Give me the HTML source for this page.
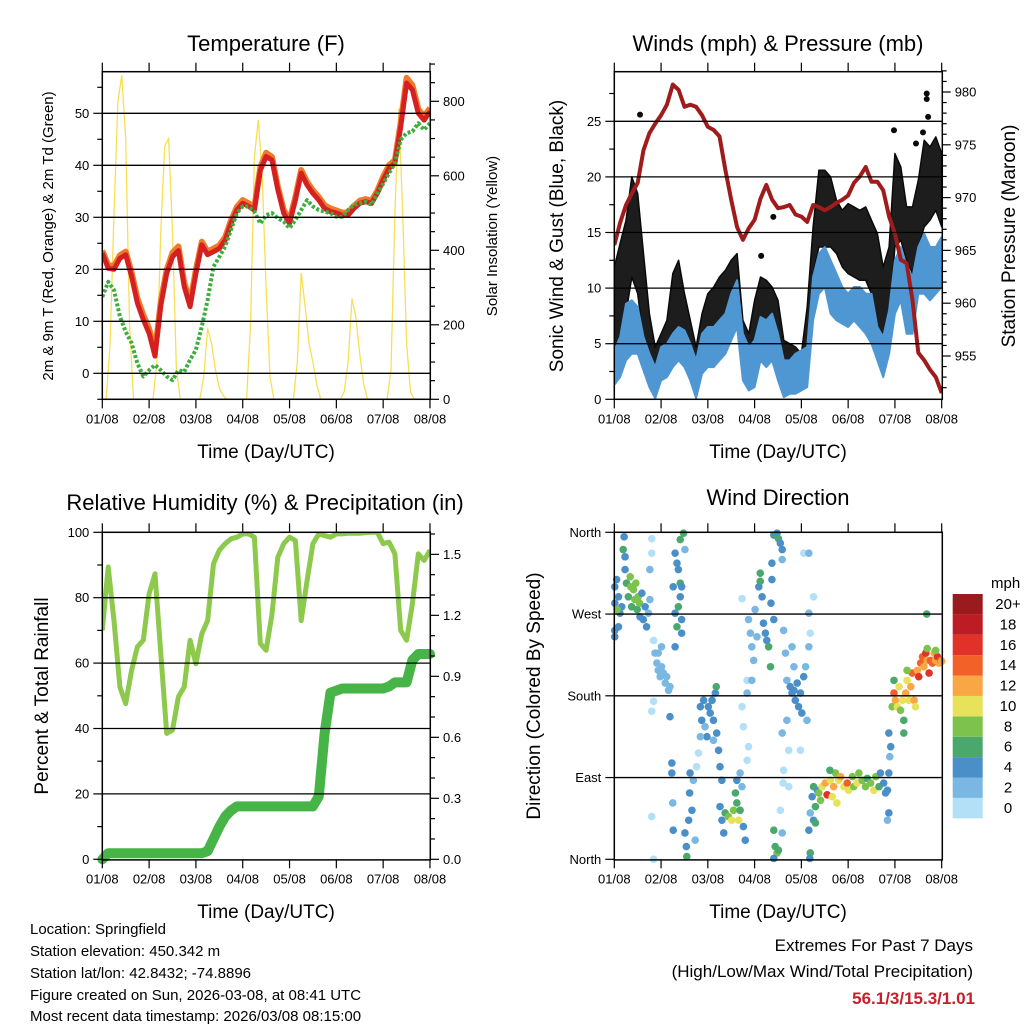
<!DOCTYPE html>
<html><head><meta charset="utf-8"><title>Weather station 7-day summary</title>
<style>
html,body{margin:0;padding:0;background:#fff;}
svg{display:block;font-family:"Liberation Sans",Arial,sans-serif;}
</style></head>
<body>
<svg id="chart" width="1024" height="1024" viewBox="0 0 1024 1024">
<rect x="0" y="0" width="1024" height="1024" fill="#fff"/>
<g id="marks"></g>
<g id="axes"></g>
<text x="266" y="51" font-size="22" text-anchor="middle">Temperature (F)</text>
<text x="778" y="51" font-size="22" text-anchor="middle">Winds (mph) &amp; Pressure (mb)</text>
<text x="265" y="510" font-size="22" text-anchor="middle">Relative Humidity (%) &amp; Precipitation (in)</text>
<text x="778" y="505" font-size="22" text-anchor="middle">Wind Direction</text>
<text x="266" y="458" font-size="19" text-anchor="middle">Time (Day/UTC)</text>
<text x="778" y="458" font-size="19" text-anchor="middle">Time (Day/UTC)</text>
<text x="266" y="918" font-size="19" text-anchor="middle">Time (Day/UTC)</text>
<text x="778" y="918" font-size="19" text-anchor="middle">Time (Day/UTC)</text>
<text transform="translate(53,236) rotate(-90)" font-size="15" text-anchor="middle">2m &amp; 9m T (Red, Orange) &amp; 2m Td (Green)</text>
<text transform="translate(497,236) rotate(-90)" font-size="15" text-anchor="middle">Solar Insolation (Yellow)</text>
<text transform="translate(563,236) rotate(-90)" font-size="19" text-anchor="middle">Sonic Wind &amp; Gust (Blue, Black)</text>
<text transform="translate(1015,236) rotate(-90)" font-size="19" text-anchor="middle">Station Pressure (Maroon)</text>
<text transform="translate(48,696) rotate(-90)" font-size="19" text-anchor="middle">Percent &amp; Total Rainfall</text>
<text transform="translate(540,696) rotate(-90)" font-size="19" text-anchor="middle">Direction (Colored By Speed)</text>
<text x="991" y="588" font-size="15">mph</text>
<g font-size="15">
<text x="30" y="934">Location: Springfield</text>
<text x="30" y="956">Station elevation: 450.342 m</text>
<text x="30" y="978">Station lat/lon: 42.8432; -74.8896</text>
<text x="30" y="1000">Figure created on Sun, 2026-03-08, at 08:41 UTC</text>
<text x="30" y="1021">Most recent data timestamp: 2026/03/08 08:15:00</text>
</g>
<text x="973" y="951" font-size="17" text-anchor="end">Extremes For Past 7 Days</text>
<text x="973" y="977" font-size="17" text-anchor="end">(High/Low/Max Wind/Total Precipitation)</text>
<text x="975" y="1004" font-size="17" font-weight="bold" fill="#c8202a" text-anchor="end">56.1/3/15.3/1.01</text>
</svg>
<script>
// ---------- data (3-hourly unless noted) ----------
const xTickLabels = ['01/08','02/08','03/08','04/08','05/08','06/08','07/08','08/08'];
const tempRed = [23.1,20.2,20,22.1,22.8,18.6,13.5,10.3,7.7,3.3,13,19.2,22.4,23.6,16.7,12.8,19.2,24.7,22.8,23.4,24,25.6,28.8,31.4,32.7,32.1,31.4,39,41.7,41,35.3,30.8,28.8,33.3,38.5,36.2,34.6,33.3,31.7,31.1,30.8,30.4,30.4,31.7,32.7,33,32.7,34.6,37.2,39.4,40.4,47.4,55.8,54.5,50,48.7,50.3];
const tempOrange = [23.6,20.8,20.6,22.7,23.4,19.4,14.4,11.2,8.6,4.2,13.8,19.9,23.2,24.4,17.5,13.6,19.9,25.3,23.4,24,24.6,26.2,29.4,32,33.3,32.7,32,39.6,42.4,41.6,35.9,31.4,29.4,33.9,39.1,36.8,35.2,33.9,32.3,31.7,31.3,30.9,30.9,32.2,33.2,33.5,33.2,35.1,37.8,40,41,48.2,56.8,55.4,50.8,49.4,51];
const dewGreen = [14.7,17.6,16,10.9,8,5.8,1.9,-0.6,0.6,1.6,0.6,-0.6,-1.3,0.6,0.3,2.6,4.5,9,14.1,20.5,22.4,24.4,27.6,30.8,32.1,32.1,31.1,28.8,30.4,30.8,29.8,29.2,27.9,29.5,31.4,33.3,32.1,31.4,31.1,30.8,30.1,30.1,31.4,32.4,32.7,33,32.4,34.6,36.5,38.5,40.4,44.9,46.2,46.5,48.1,46.8,48.1];
// solar insolation, 2-hourly
const solar2h = [0,0,150,500,800,870,700,200,0,0,0,0,
 0,0,100,450,680,700,450,80,0,0,0,0,
 0,0,60,190,150,80,30,10,0,0,0,0,
 0,0,200,650,750,600,300,60,0,0,0,0,
 0,0,100,340,250,150,100,40,0,0,0,0,
 0,0,20,100,270,220,120,40,0,0,0,0,
 0,0,80,500,780,500,150,20,0,0,0,0, 0];
const pressure = [965.5,967.6,969.3,970.4,971.4,974.5,976.1,977,977.8,978.8,980.7,980.2,978.6,978.8,978.6,977.8,976.7,976.4,975.8,972.6,969.8,967.2,966,967.1,967.9,969.9,971.2,969.8,969,969.1,969.3,968.4,968.2,967.7,969.3,969.1,968.8,969.1,969.5,969.8,970.2,971.4,972,972.9,971.5,971.5,970.7,968.2,966.6,964.1,963.8,960.3,955.3,954.6,953.7,953,951.5];
const windHi = [4.4,5.6,8.6,8.9,8.3,5.6,4.1,2.9,4.7,5.0,5.9,6.5,6.2,5.0,3.5,5.9,6.5,6.5,7.1,7.7,9.5,10.7,5.9,4.7,5.3,7.4,7.1,7.7,5.9,3.5,3.5,4.1,4.4,4.7,11.0,13.1,13.7,12.5,11.3,10.1,9.5,10.1,10.1,9.5,9.5,6.5,5.6,8.0,12.5,13.7,11.9,11.0,13.7,14.9,13.7,13.7,14.6];
const windLo = [1.3,2.0,3.5,4.1,4.1,2.6,1.1,0.1,1.7,2.0,2.9,3.5,2.9,1.7,0.1,2.3,2.9,2.9,3.5,4.1,5.3,6.5,1.7,0.8,1.1,3.5,2.9,3.5,1.7,0.2,0.5,0.5,0.8,1.1,7.1,9.5,10.1,7.7,7.1,6.8,6.5,7.1,6.5,5.9,5.0,3.5,2.0,4.1,7.7,8.9,5.9,5.9,9.5,9.5,8.9,9.5,10.1];
const gustHi = [11.9,14.0,16.1,20.0,18.5,13.1,7.7,4.7,5.9,7.1,11.3,12.5,9.5,7.1,4.7,7.7,9.5,10.1,11.0,11.6,12.5,13.1,7.1,5.9,8.9,11.0,10.7,10.1,8.9,5.3,5.0,4.7,4.1,8.3,15.5,20.6,20.6,20.0,17.9,17.0,17.6,17.3,17.0,17.3,16.1,14.9,11.9,13.7,22.1,20.9,17.3,17.3,19.7,23.3,22.7,23.6,22.1];
const gustLo = [3.5,5.9,7.7,11.0,9.5,5.3,3.5,1.1,2.3,2.9,4.7,5.9,4.7,3.5,1.4,4.1,5.0,5.3,5.9,6.5,7.7,7.1,2.9,2.0,3.5,5.9,5.9,5.3,4.1,2.0,2.0,1.7,1.7,4.1,11.3,13.7,13.7,13.7,13.1,11.9,11.3,11.0,10.7,10.7,9.5,6.5,5.3,7.1,13.7,14.3,12.5,11.3,13.7,15.5,16.1,17.0,15.5];
const gustOutDay = [0.55,5.98,6.68,6.68,6.71,3.4,3.14,6.6,6.45];
const gustOutVal = [25.6,24.2,27.5,27.0,25.4,16.4,12.9,24.0,23.0];
const rhVals = [70,89.4,73,52.7,47.6,57.8,65,67,81.2,87.3,62.9,38.5,39.5,49.7,52.7,67,59.8,69,73,90.4,94.5,96.5,98,98.5,99.5,99.5,98.5,66,63.9,75,92.4,96.5,98.5,97.5,73,85.3,96.5,99.5,99,98.5,99.5,99.5,99.7,99.7,99.7,99.9,100,100,96.5,97,93.4,70,67,78.2,93.4,91.4,94.5];
const precipVals = [0,0.03,0.03,0.03,0.03,0.03,0.03,0.03,0.03,0.03,0.03,0.03,0.03,0.03,0.03,0.03,0.03,0.03,0.04,0.1,0.16,0.21,0.24,0.26,0.26,0.26,0.26,0.26,0.26,0.26,0.26,0.26,0.26,0.26,0.26,0.26,0.26,0.31,0.62,0.82,0.83,0.84,0.84,0.84,0.84,0.84,0.84,0.84,0.84,0.85,0.87,0.87,0.87,0.98,1.01,1.01,1.01];
// wind direction scatter (day, degrees, speed mph)
const dirDay = [0.01,0.01,0.01,0.01,0.05,0.09,0.12,0.16,0.19,0.21,0.23,0.23,0.26,0.3,0.34,0.35,0.37,0.41,0.44,0.46,0.49,0.51,0.54,0.55,0.59,0.62,0.66,0.69,0.73,0.76,0.76,0.8,0.8,0.84,0.06,0.09,
0.87,0.91,0.94,0.98,1.01,1.05,1.09,1.12,1.16,1.19,0.94,0.84,0.8,1.19,1.01,
1.3,1.34,1.37,1.41,1.44,1.41,1.3,1.37,1.44,1.44,1.34,1.48,1.41,1.51,1.3,1.26,
1.23,1.23,1.25,1.26,1.51,1.54,1.55,1.59,1.61,1.62,1.66,1.69,1.73,1.76,1.8,0.8,0.84,
1.84,1.87,1.91,1.94,1.98,2.01,2.05,2.09,2.12,2.16,2.18,2.19,2.12,1.84,2.23,
2.26,2.3,2.26,2.3,2.34,2.37,2.44,2.51,2.55,2.59,2.62,2.66,2.62,2.69,2.73,2.76,2.8,2.84,2.69,
2.73,2.76,2.84,2.87,2.84,
2.87,2.91,2.94,2.98,3.01,3.05,3.09,3.12,3.16,3.19,3.23,3.26,3.3,3.34,3.37,3.35,3.41,2.73,2.94,3.12,
3.41,3.44,3.48,3.51,3.55,3.59,3.37,3.59,
3.41,3.44,3.48,3.51,3.41,3.59,3.55,3.61,
3.62,3.66,3.69,3.76,3.8,3.84,3.87,3.91,3.94,3.98,4.01,4.05,4.09,4.12,4.16,4.19,3.59,3.69,3.73,3.8,3.84,4.05,4.16,4.26,4.16,3.98,3.62,3.73,
4.16,4.19,4.23,4.26,4.3,4.3,4.26,4.34,4.19,4.18,
4.37,4.44,4.51,4.55,4.62,4.66,4.69,4.73,4.8,4.84,4.91,4.98,5.01,5.09,5.12,5.19,5.23,5.3,5.37,5.41,5.48,5.55,5.59,5.66,5.69,5.76,5.8,5.84,4.41,4.76,4.61,5.87,5.87,5.84,
5.87,5.91,5.89,5.94,5.98,6.01,6.05,6.09,6.12,6.16,6.19,6.19,6.23,6.26,6.3,6.34,6.37,6.41,6.44,5.98,6.26,
6.48,6.51,6.55,6.59,6.62,6.66,6.69,6.73,6.76,6.8,6.84,6.87,6.91,6.94,6.98,7.0,6.69,6.87,6.68];
const dirDeg = [300,282,252,245,308,289,271,278,341,355,333,319,304,289,311,300,278,297,286,304,275,289,282,267,293,264,278,256,271,286,319,353,337,241,275,256,
227,216,208,201,212,205,194,201,186,190,227,174,163,157,234,
337,326,319,304,300,289,271,278,264,249,256,359,352,341,234,300,
106,95,62,32,29,14,3,43,73,95,54,87,21,102,117,47,0,
168,153,175,146,135,168,161,175,153,183,190,139,131,135,120,
102,87,58,43,29,51,47,43,54,73,87,43,62,95,80,36,21,109,54,
168,146,183,124,197,
264,249,234,219,275,245,300,315,289,260,249,241,234,212,308,282,264,287,197,306,
357,357,359,353,348,341,326,330,
32,14,7,10,1,29,54,84,
252,227,197,190,183,186,175,194,168,183,161,201,212,153,234,249,139,153,120,234,212,337,337,289,271,120,98,80,
32,51,69,43,58,40,80,76,7,1,
73,80,84,71,87,69,80,95,87,91,80,84,76,91,80,84,95,87,80,89,84,76,91,80,95,84,73,76,65,62,98,95,51,43,
139,124,113,168,183,175,168,190,164,175,153,139,183,197,175,190,205,175,168,197,208,
208,201,216,223,212,227,219,205,219,216,227,219,223,216,219,218,232,230,270];
const dirSpd = [4,4,4,4,4,4,4,4,6,4,4,4,6,6,8,8,6,8,8,8,6,8,8,4,4,4,4,4,2,2,2,0,0,0,8,4,
2,2,2,2,2,2,2,2,2,2,2,0,0,4,2,
4,4,4,6,4,4,4,6,4,4,6,6,6,2,4,4,
4,4,2,4,4,4,6,4,4,4,4,2,2,0,0,0,0,
4,4,4,2,4,4,4,4,4,4,6,4,2,2,4,
4,4,4,4,4,6,8,10,8,6,4,10,6,2,2,4,4,0,6,
0,0,2,0,0,
2,2,2,2,2,2,4,6,4,4,4,4,6,6,4,4,4,0,2,6,
4,6,4,6,4,4,4,2,
6,6,8,6,4,2,0,0,
2,2,2,4,4,4,4,4,4,4,4,4,2,2,2,0,2,2,0,2,2,0,2,0,2,0,0,0,
4,2,4,4,6,6,6,4,6,4,
8,10,12,16,10,10,12,8,10,12,10,14,10,8,8,10,8,8,8,6,8,10,8,6,4,4,4,4,8,10,6,4,4,2,
4,4,2,8,14,12,10,10,8,10,6,6,12,10,10,12,14,12,10,6,8,
12,16,14,14,12,16,12,16,14,14,12,12,16,12,14,12,8,8,6];
const speedColors = ['#b3e0f6','#7ab8e3','#4a8fc8','#4ba86d','#7cc24c','#e8e15a','#f9a745','#f26228','#e03228','#bd1c25','#9b1a1e'];
const colorbarLabels = ['0','2','4','6','8','10','12','14','16','18','20+'];
const tempTicks = [0,10,20,30,40,50];
const solarTicks = [0,200,400,600,800];
const windTicks = [0,5,10,15,20,25];
const pressTicks = [955,960,965,970,975,980];
const rhTicks = [0,20,40,60,80,100];
const precipTicks = [0.0,0.3,0.6,0.9,1.2,1.5];
const precipTickLabels = ['0.0','0.3','0.6','0.9','1.2','1.5'];
const dirTicks = [0,90,180,270,360];
const dirTickLabels = ['North','East','South','West','North'];

// ---------- scales ----------
const xA = d => 102.3 + d*46.81;
const xB = d => 614.3 + d*46.77;
const yTemp = v => 373.3 - v*5.2;
const ySolar = v => 399.3 - v*0.3725;
const yWind = v => 399.3 - v*11.12;
const yPress = p => 92 + (980-p)*10.56;
const yRH = v => 859.3 - v*3.27;
const yPrecip = v => 859.3 - v*203.3;
const yDir = v => 859.3 - v*0.9083;

const NS = 'http://www.w3.org/2000/svg';
const marks = document.getElementById('marks');
const axes = document.getElementById('axes');
function el(tag, parent, attrs){
  const e = document.createElementNS(NS, tag);
  for (const k in attrs) e.setAttribute(k, attrs[k]);
  parent.appendChild(e);
  return e;
}
function pts(vals, xs, ys, step){
  return vals.map((v,i)=> xs(i*step).toFixed(1)+','+ys(v).toFixed(1)).join(' ');
}
function band(hi, lo, xs, ys, step){
  const a = hi.map((v,i)=> xs(i*step).toFixed(1)+','+ys(v).toFixed(1));
  const b = lo.map((v,i)=> xs(i*step).toFixed(1)+','+ys(v).toFixed(1)).reverse();
  return a.concat(b).join(' ');
}

const defs = el('defs', marks, {});
[['clipA',102.3,71.7],['clipB',614.3,71.7],['clipC',102.3,532.3],['clipD',614.3,532.3]].forEach(c=>{
  const cp = el('clipPath', defs, {id:c[0]});
  const r = el('rect', cp, {x:c[1], y:c[2], width:328, height:327.6});
  
  
});

function grid(vals, ys, x0, x1, name){
  vals.forEach(v=>{
    const l = el('line', axes, {x1:x0, x2:x1, y1:ys(v), y2:ys(v), stroke:'#000', 'stroke-width':1.3});
    
    
  });
}
grid(tempTicks, yTemp, 102.3, 430, 'temperature-gridline');
grid([5,10,15,20,25], yWind, 614.3, 941.7, 'wind-gridline');
grid([20,40,60,80], yRH, 102.3, 430, 'humidity-gridline');
grid([90,180,270], yDir, 614.3, 941.7, 'direction-gridline');

// ---------- panel A ----------
const solarLine = el('polyline', marks, {points:pts(solar2h, xA, ySolar, 1/12), fill:'none', stroke:'#f7df55', 'stroke-width':1.3, 'clip-path':'url(#clipA)'});


const orangeLine = el('polyline', marks, {points:pts(tempOrange, xA, yTemp, 0.125), fill:'none', stroke:'#f07a2a', 'stroke-width':6, 'stroke-linejoin':'round', 'clip-path':'url(#clipA)'});


const redLine = el('polyline', marks, {points:pts(tempRed, xA, yTemp, 0.125), fill:'none', stroke:'#d42020', 'stroke-width':5, 'stroke-linejoin':'round', 'clip-path':'url(#clipA)'});


const dewLine = el('polyline', marks, {points:pts(dewGreen, xA, yTemp, 0.125), fill:'none', stroke:'#3dae3d', 'stroke-width':4, 'stroke-dasharray':'3 2', 'stroke-linejoin':'round', 'clip-path':'url(#clipA)'});



// ---------- panel B ----------
const gustBand = el('polygon', marks, {points:band(gustHi, gustLo, xB, yWind, 0.125), fill:'#0a0a0a', 'fill-opacity':0.92, stroke:'#0a0a0a', 'stroke-width':1.5, 'stroke-linejoin':'round', 'clip-path':'url(#clipB)'});


gustOutDay.forEach((d,i)=>{
  const c = el('circle', marks, {cx:xB(d), cy:yWind(gustOutVal[i]), r:3, fill:'#0a0a0a'});
  
  
});
const windBand = el('polygon', marks, {points:band(windHi, windLo, xB, yWind, 0.125), fill:'#4f97d2', stroke:'#4f97d2', 'stroke-width':2, 'stroke-linejoin':'round', 'clip-path':'url(#clipB)'});


const pressLine = el('polyline', marks, {points:pts(pressure, xB, yPress, 0.125), fill:'none', stroke:'#a01c1c', 'stroke-width':4, 'stroke-linejoin':'round', 'clip-path':'url(#clipB)'});



// ---------- panel C ----------
const rhLine = el('polyline', marks, {points:pts(rhVals, xA, yRH, 0.125), fill:'none', stroke:'#8dc94c', 'stroke-width':5, 'stroke-linejoin':'round', 'clip-path':'url(#clipC)'});


const prLine = el('polyline', marks, {points:pts(precipVals, xA, yPrecip, 0.125), fill:'none', stroke:'#46b446', 'stroke-width':10, 'stroke-linejoin':'round', 'stroke-linecap':'round'});



// ---------- panel D ----------
dirDay.forEach((d,i)=>{
  const bin = Math.max(0, Math.min(10, Math.floor(dirSpd[i]/2)));
  const c = el('circle', marks, {cx:xB(d), cy:yDir(dirDeg[i]), r:3.8, fill:speedColors[bin]});
  
  
});

speedColors.forEach((col,i)=>{
  const y = 818.3 - (i+1)*20.39;
  const r = el('rect', axes, {x:952.7, y:y, width:30, height:20.39, fill:col});
  
  
  const t = el('text', axes, {x:1008, y:y+15, 'font-size':15, 'text-anchor':'middle'});
  t.textContent = colorbarLabels[i];
  
  
});

// ---------- axes ----------
function frame(L, T, name){
  const r = el('rect', axes, {x:L, y:T, width:328, height:327.6, fill:'none', stroke:'#000', 'stroke-width':1.5});
  
  
}
frame(102.3,71.7,'temperature-plot-frame');
frame(614.3,71.7,'winds-plot-frame');
frame(102.3,532.3,'humidity-plot-frame');
frame(614.3,532.3,'direction-plot-frame');

function tick(x1,y1,x2,y2,name){
  const l = el('line', axes, {x1:x1,y1:y1,x2:x2,y2:y2, stroke:'#000', 'stroke-width':1.2});
  
  
}
function label(x,y,txt,anchor,name){
  const t = el('text', axes, {x:x, y:y, 'font-size':13, 'text-anchor':anchor});
  t.textContent = txt;
  
  
}
function xAxis(xs, T, B, name){
  xTickLabels.forEach((lab,i)=>{
    const x = xs(i);
    tick(x, B, x, B+9, name+'-tick');
    tick(x, T, x, T-9, name+'-tick');
    label(x, B+24, lab, 'middle', name+'-tick-label');
  });
}
xAxis(xA, 71.7, 399.3, 'temperature-x');
xAxis(xB, 71.7, 399.3, 'winds-x');
xAxis(xA, 532.3, 859.3, 'humidity-x');
xAxis(xB, 532.3, 859.3, 'direction-x');

function yAxis(vals, labs, ys, x, side, minorVals, name){
  const dir = side==='left' ? -1 : 1;
  vals.forEach((v,i)=>{
    tick(x, ys(v), x+dir*9, ys(v), name+'-tick');
    label(x+dir*13, ys(v)+4.5, labs[i], side==='left'?'end':'start', name+'-tick-label');
  });
  minorVals.forEach(v=>{ tick(x, ys(v), x+dir*5, ys(v), name+'-minor-tick'); });
}
yAxis(tempTicks, tempTicks.map(String), yTemp, 102.3, 'left', [-5,5,15,25,35,45,55], 'temperature-y');
const solarMinor = [];
for (let v=50; v<=900; v+=50) if (v%200) solarMinor.push(v);
yAxis(solarTicks, solarTicks.map(String), ySolar, 430, 'right', solarMinor, 'solar-y');
yAxis(windTicks, windTicks.map(String), yWind, 614.3, 'left', [2.5,7.5,12.5,17.5,22.5,27.5], 'wind-y');
const pressMinor = [];
for (let p=952; p<=982; p++) if (p%5) pressMinor.push(p);
yAxis(pressTicks, pressTicks.map(String), yPress, 941.7, 'right', pressMinor, 'pressure-y');
yAxis(rhTicks, rhTicks.map(String), yRH, 102.3, 'left', [10,30,50,70,90], 'humidity-y');
yAxis(precipTicks, precipTickLabels, yPrecip, 430, 'right', [0.1,0.2,0.4,0.5,0.7,0.8,1.0,1.1,1.3,1.4,1.6], 'precip-y');
yAxis(dirTicks, dirTickLabels, yDir, 614.3, 'left', [], 'direction-y');
</script>
</body></html>
